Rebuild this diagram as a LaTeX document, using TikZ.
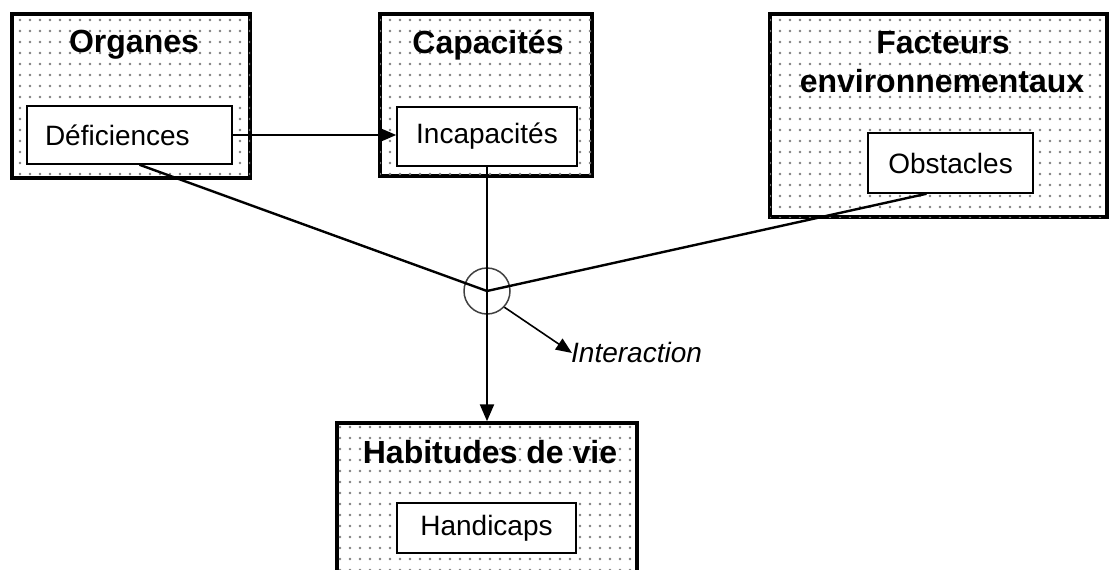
\documentclass[tikz,border=0pt]{standalone}
\usepackage{fontspec}
\setmainfont{Liberation Sans}
\usetikzlibrary{arrows.meta,patterns.meta}
\tikzdeclarepattern{
  name=sparsedots,
  type=uncolored,
  bottom left={(-1.5pt,-1.5pt)},
  top right={(1.5pt,1.5pt)},
  tile size={(10pt,11pt)},
  code={\fill (0pt,0pt) circle (1.3pt);}
}
\tikzset{
  outerbox/.style={draw=black, line width=3.5pt, fill=white, postaction={pattern=sparsedots, pattern color=black!50}, inner sep=0pt},
  innerbox/.style={draw=black, line width=1.5pt, fill=white, inner sep=0pt, font=\fontsize{28}{31}\selectfont},
  titletext/.style={inner sep=0pt, font=\fontsize{32}{35}\selectfont\bfseries},
  conn/.style={line width=2.4pt, draw=black},
  tip/.style={-{Triangle[length=17pt,width=14pt]}}
}
\begin{document}
\begin{tikzpicture}[x=1pt,y=-1pt]
\useasboundingbox (0,0) rectangle (1111,570);
\clip (0,0) rectangle (1111,570);
% outer boxes
\node[outerbox, minimum width=238pt, minimum height=164pt] (org) at (131,96) {};
\node[outerbox, minimum width=212pt, minimum height=162pt] (cap) at (486,95) {};
\node[outerbox, minimum width=337pt, minimum height=203pt] (fac) at (938.5,115.5) {};
\node[outerbox, minimum width=300pt, minimum height=152pt] (hab) at (487,499) {};
% titles
\node[titletext] (torg) at (134,45) {Organes};
\node[titletext] (tcap) at (488,45) {Capacités};
\node[titletext] (tfac1) at (943,43) {Facteurs};
\node[titletext] (tfac2) at (942,81) {environnementaux};
\node[titletext] (thab) at (490,452) {Habitudes de vie};
% inner boxes
\node[innerbox, minimum width=205pt, minimum height=58pt, text width=169pt, align=left] (def) at (129.5,135) {Déficiences};
\node[innerbox, minimum width=180pt, minimum height=59pt] (inc) at (487,136.5) {Incapacités};
\node[innerbox, minimum width=165pt, minimum height=60pt] (obs) at (950.5,163) {Obstacles};
\node[innerbox, minimum width=179pt, minimum height=50pt] (han) at (486.5,528) {Handicaps};
% interaction
\node[circle, draw=black!75, line width=1.5pt, minimum size=46pt, inner sep=0pt] (int) at (487,291) {};
\node[anchor=west, inner sep=0pt, font=\fontsize{28}{31}\selectfont\itshape] (ilab) at (571,352) {Interaction};
% connectors
\draw[conn, tip] (def.east) -- (def.east -| inc.west);
\draw[conn] ([xshift=10pt]def.south) -- (int.center);
\draw[conn] ([xshift=-24pt]obs.south) -- (int.center);
\draw[conn, tip] (inc.south) -- (hab.north);
\draw[line width=1.6pt, -{Triangle[length=16pt,width=13pt]}] (int.-43) -- ([xshift=1pt,yshift=-1pt]ilab.west);
\end{tikzpicture}
\end{document}
